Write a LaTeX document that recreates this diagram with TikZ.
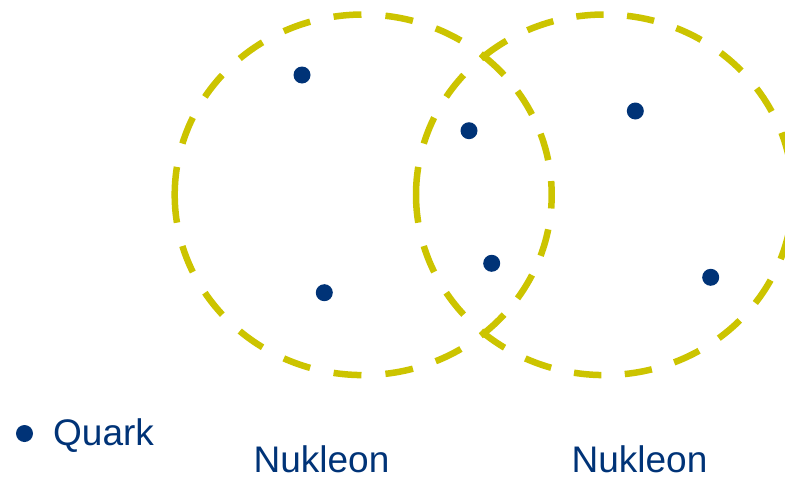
\documentclass[tikz,border=0pt]{standalone}
\usepackage{fontspec}
\setmainfont{Liberation Sans}
\usetikzlibrary{positioning}

\definecolor{nukgelb}{RGB}{204,196,0}
\definecolor{nukblau}{RGB}{0,51,119}

\begin{document}
\begin{tikzpicture}[x = 1pt, y = -1pt,
    quark/.style = { circle, fill = nukblau, inner sep = 0pt, minimum size = 17pt },
    nukleon/.style = { draw = nukgelb, line width = 6.5pt },
    aussen/.style = { nukleon, dash pattern = on 28pt off 24pt },
    innen/.style = { nukleon, dash pattern = on 27.5pt off 21.1pt },
    bogen/.style = { nukleon, dash pattern = on 27.5pt off 23.4pt },
    beschrift/.style = { text = nukblau, inner sep = 0pt, font = \fontsize{37}{40}\selectfont }]
    \useasboundingbox (0,0) rectangle (785,477);

    % Mittelpunkte und Schnittpunkte der Nukleonen
    \coordinate (n1) at (363.2,194.8);
    \coordinate (n2) at (604.5,194.8);
    \coordinate (ko) at (483.85,56.27);
    \coordinate (ku) at (483.85,333.33);

    % linkes Nukleon
    \draw[aussen] (n1) ++(-188.5,0) arc [start angle = 180, end angle = 309.79, x radius = 188.5, y radius = 180.3];
    \draw[aussen] (n1) ++(-188.5,0) arc [start angle = 180, end angle = 50.21, x radius = 188.5, y radius = 180.3];
    \draw[innen] (ko) arc [start angle = -50.21, end angle = 50.21, x radius = 188.5, y radius = 180.3];

    % rechtes Nukleon
    \draw[aussen] (n2) ++(-188.5,0) arc [start angle = 180, end angle = 230.21, x radius = 188.5, y radius = 180.3];
    \draw[aussen] (n2) ++(-188.5,0) arc [start angle = 180, end angle = 129.79, x radius = 188.5, y radius = 180.3];
    \draw[bogen] (ko) arc [start angle = 230.21, end angle = 489.79, x radius = 188.5, y radius = 180.3];

    % Quarks
    \node[quark] (q1) at (302,75) {};
    \node[quark] (q2) at (324.3,292.7) {};
    \node[quark] (q3) at (469,130.7) {};
    \node[quark] (q4) at (491.7,263.3) {};
    \node[quark] (q5) at (635.3,111) {};
    \node[quark] (q6) at (710.7,277.3) {};

    % Legende
    \node[quark] (key) at (24.5,433.5) {};
    \node[beschrift, anchor = base west] (quarktext) at (53,445) {Quark};
    \node[beschrift, anchor = base] (nuk1) at (321.5,472.5) {Nukleon};
    \node[beschrift, anchor = base] (nuk2) at (639.5,472.5) {Nukleon};
\end{tikzpicture}
\end{document}
